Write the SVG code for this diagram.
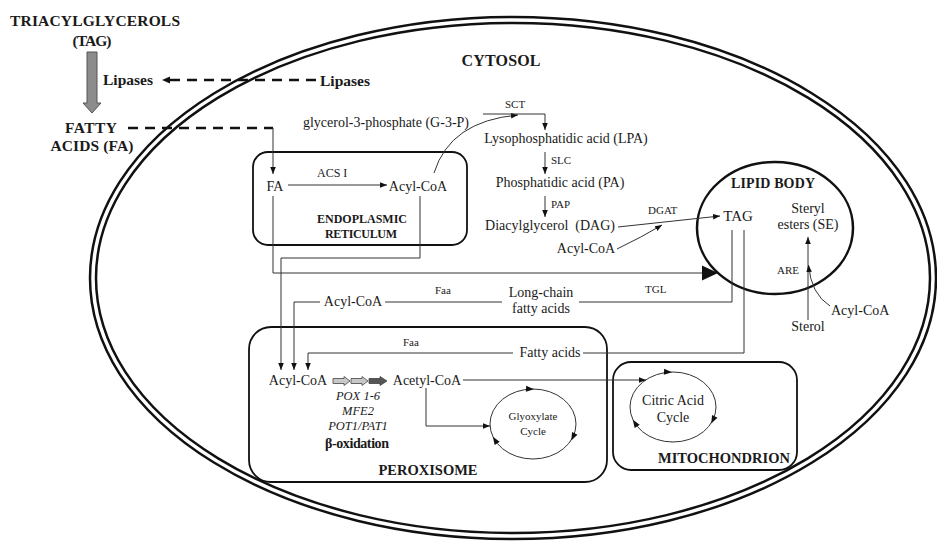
<svg xmlns="http://www.w3.org/2000/svg" width="937" height="541" viewBox="0 0 937 541">
<style>
text{font-family:"Liberation Serif","Times New Roman",serif;fill:#1a1a1a;font-size:14px}
.b{font-weight:bold}
.s{font-size:11px}
.i{font-style:italic;font-size:12.5px}
.mid{text-anchor:middle}
.ln{fill:none;stroke:#333;stroke-width:1}
.dash{fill:none;stroke:#111;stroke-width:2.5;stroke-dasharray:10 7}
.box{fill:none;stroke:#111;stroke-width:1.8}
.cyc{fill:none;stroke:#333;stroke-width:1}
.mem{fill:none;stroke:#111;stroke-width:2.5}
</style>
<defs>
<marker id="ah" viewBox="0 0 10 10" refX="10" refY="5" markerWidth="7" markerHeight="7" orient="auto" markerUnits="userSpaceOnUse"><path d="M0,1 L10,5 L0,9 z" fill="#111"/></marker>
<path id="tri" d="M-4,-3 L4,0 L-4,3 z" fill="#111"/>
</defs>
<rect width="937" height="541" fill="#fff"/>

<g id="cell">
<ellipse class="mem" cx="513" cy="278" rx="423" ry="261"/>
<ellipse class="mem" cx="513" cy="278" rx="417" ry="255"/>
<text class="b mid" x="501" y="66" style="font-size:16px" textLength="79" lengthAdjust="spacing">CYTOSOL</text>
</g>

<g id="tag-source">
<text class="b mid" x="95" y="26" style="font-size:15.5px" textLength="170" lengthAdjust="spacing">TRIACYLGLYCEROLS</text>
<text class="b mid" x="92" y="46" style="font-size:15.5px" textLength="39" lengthAdjust="spacing">(TAG)</text>
<polygon points="87,52 97,52 97,103 101,103 92,113 83,103 87,103" fill="#8c8c8c" stroke="#555" stroke-width="1"/>
</g>
<g id="lipases-left"><text class="b" x="103" y="85" style="font-size:15.5px" textLength="50" lengthAdjust="spacing">Lipases</text></g>
<g id="lipases-right"><text class="b" x="320" y="86" style="font-size:15.5px" textLength="50" lengthAdjust="spacing">Lipases</text></g>
<g id="fatty-acids-ext">
<text class="b mid" x="91" y="133" style="font-size:15.5px" textLength="52" lengthAdjust="spacing">FATTY</text>
<text class="b mid" x="92" y="151" style="font-size:15.5px" textLength="83" lengthAdjust="spacing">ACIDS (FA)</text>
</g>

<g id="er">
<rect class="box" x="253" y="152" width="214" height="93" rx="15"/>
<text class="mid" x="275" y="191">FA</text>
<text x="317" y="177" style="font-size:12px">ACS I</text>
<text class="mid" x="418" y="191">Acyl-CoA</text>
<text class="b mid" x="362" y="223" style="font-size:12px" textLength="90" lengthAdjust="spacing">ENDOPLASMIC</text>
<text class="b mid" x="361" y="238" style="font-size:12px" textLength="72" lengthAdjust="spacing">RETICULUM</text>
</g>

<g id="g3p"><text class="mid" x="386" y="127">glycerol-3-phosphate (G-3-P)</text></g>
<g id="lpa"><text class="mid" x="566" y="143">Lysophosphatidic acid (LPA)</text></g>
<g id="pa"><text class="mid" x="560" y="187">Phosphatidic acid (PA)</text></g>
<g id="dag"><text class="mid" x="550" y="230">Diacylglycerol&#160; (DAG)</text></g>
<g id="acyl-dag"><text class="mid" x="586" y="253">Acyl-CoA</text></g>
<g id="enzyme-labels">
<text class="s" x="505" y="108">SCT</text>
<text class="s" x="551" y="164">SLC</text>
<text class="s" x="551" y="208">PAP</text>
<text class="s" x="648" y="214">DGAT</text>
<text class="s" x="645" y="293">TGL</text>
<text class="s" x="435" y="294">Faa</text>
<text class="s" x="403" y="346">Faa</text>
<text class="s" x="777" y="274">ARE</text>
</g>

<g id="lipid-body">
<ellipse class="mem" cx="775" cy="228" rx="78" ry="66"/>
<text class="b mid" x="773" y="188" textLength="84" lengthAdjust="spacing">LIPID BODY</text>
<text class="mid" x="738" y="221" style="font-size:15px">TAG</text>
<text class="mid" x="808" y="213">Steryl</text>
<text class="mid" x="808" y="229">esters (SE)</text>
</g>
<g id="sterol"><text class="mid" x="808" y="331">Sterol</text></g>
<g id="acyl-are"><text x="831" y="315">Acyl-CoA</text></g>

<g id="acyl-cytosol"><text class="mid" x="353" y="306">Acyl-CoA</text></g>
<g id="lcfa">
<text class="mid" x="541" y="297">Long-chain</text>
<text class="mid" x="541" y="313">fatty acids</text>
</g>
<g id="fatty-acids"><text class="mid" x="550" y="357">Fatty acids</text></g>

<g id="peroxisome">
<rect class="box" x="249" y="327" width="358" height="155" rx="22"/>
<text class="mid" x="298" y="385">Acyl-CoA</text>
<text class="mid" x="427" y="385">Acetyl-CoA</text>
<g stroke="#444" stroke-width="0.8">
<polygon points="333,378.5 344,378.5 344,376.5 350,381 344,385.5 344,383.5 333,383.5" fill="#c8c8c8"/>
<polygon points="351,378.5 362,378.5 362,376.5 368,381 362,385.5 362,383.5 351,383.5" fill="#c8c8c8"/>
<polygon points="369,378.5 380,378.5 380,376.5 387,381 380,385.5 380,383.5 369,383.5" fill="#555"/>
</g>
<text class="i mid" x="358" y="400">POX 1-6</text>
<text class="i mid" x="358" y="415">MFE2</text>
<text class="i mid" x="358" y="430">POT1/PAT1</text>
<text class="b mid" x="357" y="448" style="font-size:14px" textLength="64" lengthAdjust="spacing">β-oxidation</text>
<text class="b mid" x="428" y="475" style="font-size:14.5px" textLength="99" lengthAdjust="spacing">PEROXISOME</text>
<g id="glyoxylate">
<ellipse class="cyc" cx="533" cy="424" rx="43" ry="35"/>
<text class="mid" x="533" y="420" style="font-size:11px">Glyoxylate</text>
<text class="mid" x="533" y="435" style="font-size:11px">Cycle</text>
<use href="#tri" transform="translate(530,389) rotate(3)"/>
<use href="#tri" transform="translate(573,437) rotate(116)"/>
<use href="#tri" transform="translate(495,440) rotate(-123)"/>
</g>
</g>

<g id="mitochondrion">
<rect class="box" x="613" y="362" width="184" height="108" rx="18"/>
<ellipse class="cyc" cx="673" cy="407" rx="43" ry="35"/>
<text class="mid" x="673" y="405">Citric Acid</text>
<text class="mid" x="673" y="422">Cycle</text>
<use href="#tri" transform="translate(668,372) rotate(3)"/>
<use href="#tri" transform="translate(713,420) rotate(116)"/>
<use href="#tri" transform="translate(635,423) rotate(-123)"/>
<text class="b mid" x="724" y="463" style="font-size:14.5px" textLength="132" lengthAdjust="spacing">MITOCHONDRION</text>
</g>

<g id="connectors">
<path class="dash" d="M316,80 H170"/>
<path d="M170,76.5 L162,80 L170,83.5 z" fill="#111"/>
<path class="dash" d="M128,128 H273"/>
<path class="ln" d="M273,128 V174" marker-end="url(#ah)"/>
<path class="ln" d="M288,185 H387" marker-end="url(#ah)"/>
<path class="ln" d="M434,173 Q450,121 518,115" marker-end="url(#ah)"/>
<path class="ln" d="M483,114 H545 V130" marker-end="url(#ah)"/>
<path class="ln" d="M545,152 V174" marker-end="url(#ah)"/>
<path class="ln" d="M545,196 V217" marker-end="url(#ah)"/>
<path class="ln" d="M618,227 L720,216" marker-end="url(#ah)"/>
<path class="ln" d="M617,249 Q642,237 662,225" marker-end="url(#ah)"/>
<path class="ln" d="M273,196 V273 H704"/>
<polygon points="702,265.5 718,273 702,280.5" fill="#111"/>
<path class="ln" d="M420,196 V258 H281 V370" marker-end="url(#ah)"/>
<path class="ln" d="M732,230 V302 H579"/>
<path class="ln" d="M502,302 H385"/>
<path class="ln" d="M320,302 H294 V370" marker-end="url(#ah)"/>
<path class="ln" d="M744,230 V353 H583"/>
<path class="ln" d="M513,353 H308 V370" marker-end="url(#ah)"/>
<path class="ln" d="M463,380 H646" marker-end="url(#ah)"/>
<path class="ln" d="M426,388 V426 H490" marker-end="url(#ah)"/>
<path class="ln" d="M808,320 V237" marker-end="url(#ah)"/>
<path class="ln" d="M830,306 Q811,294 808.5,265" marker-end="url(#ah)"/>
</g>
</svg>
